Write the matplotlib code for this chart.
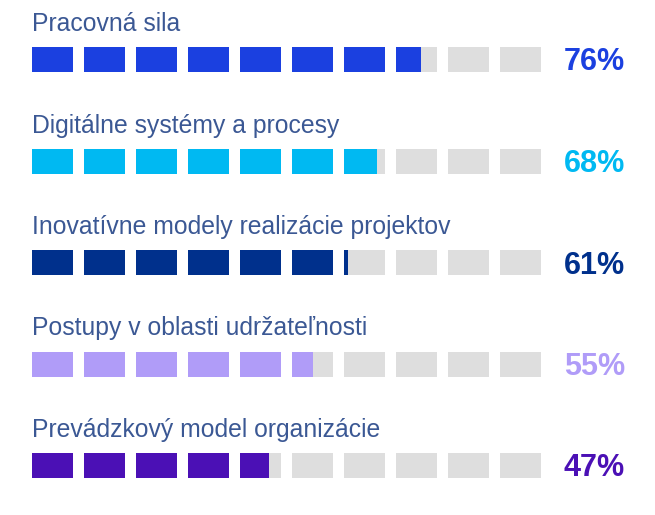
import matplotlib
matplotlib.use("Agg")
import matplotlib.pyplot as plt

# ---------------------------------------------------------------------------- #
#                                     Data                                     #
# ---------------------------------------------------------------------------- #
labels = [
    "Pracovná sila",
    "Digitálne systémy a procesy",
    "Inovatívne modely realizácie projektov",
    "Postupy v oblasti udržateľnosti",
    "Prevádzkový model organizácie",
]
values = [76, 68, 61, 55, 47]
colors = ["#1b40e0", "#00b9f2", "#00308c", "#b09cf8", "#4b10b5"]

# ---------------------------------------------------------------------------- #
#                                    Layout                                    #
# ---------------------------------------------------------------------------- #
N_SQUARES = 10
X0 = 32          # left of first square (px)
SQ_W = 41        # square width
PITCH = 52       # square pitch
SQ_H = 25        # square height
ROW0 = 59.5      # centre of first square row
ROW_PITCH = 101.5
EMPTY = "#dedede"
LABEL_COLOR = "#3b5894"

fig = plt.figure(figsize=(6.55, 5.15), dpi=100)
ax = fig.add_axes([0, 0, 1, 1])
ax.set_xlim(0, 655)
ax.set_ylim(515, 0)
ax.axis("off")

for i, (lab, val, col) in enumerate(zip(labels, values, colors)):
    yc = ROW0 + i * ROW_PITCH
    filled = val / 100 * N_SQUARES
    for k in range(N_SQUARES):
        left = X0 + k * PITCH
        ax.barh(yc, SQ_W, left=left, height=SQ_H, color=EMPTY, linewidth=0)
        frac = min(max(filled - k, 0), 1)
        if frac > 0:
            ax.barh(yc, SQ_W * frac, left=left, height=SQ_H, color=col, linewidth=0)
    ax.text(X0, yc - SQ_H / 2 - 16, lab, fontsize=17.8, color=LABEL_COLOR,
            family="Liberation Sans", ha="left", va="baseline")
    ax.text(625, yc + 11, f"{val}%", fontsize=22, color=col, fontweight="bold",
            family="Liberation Sans", ha="right", va="baseline")

fig.savefig("out.png", dpi=100)
